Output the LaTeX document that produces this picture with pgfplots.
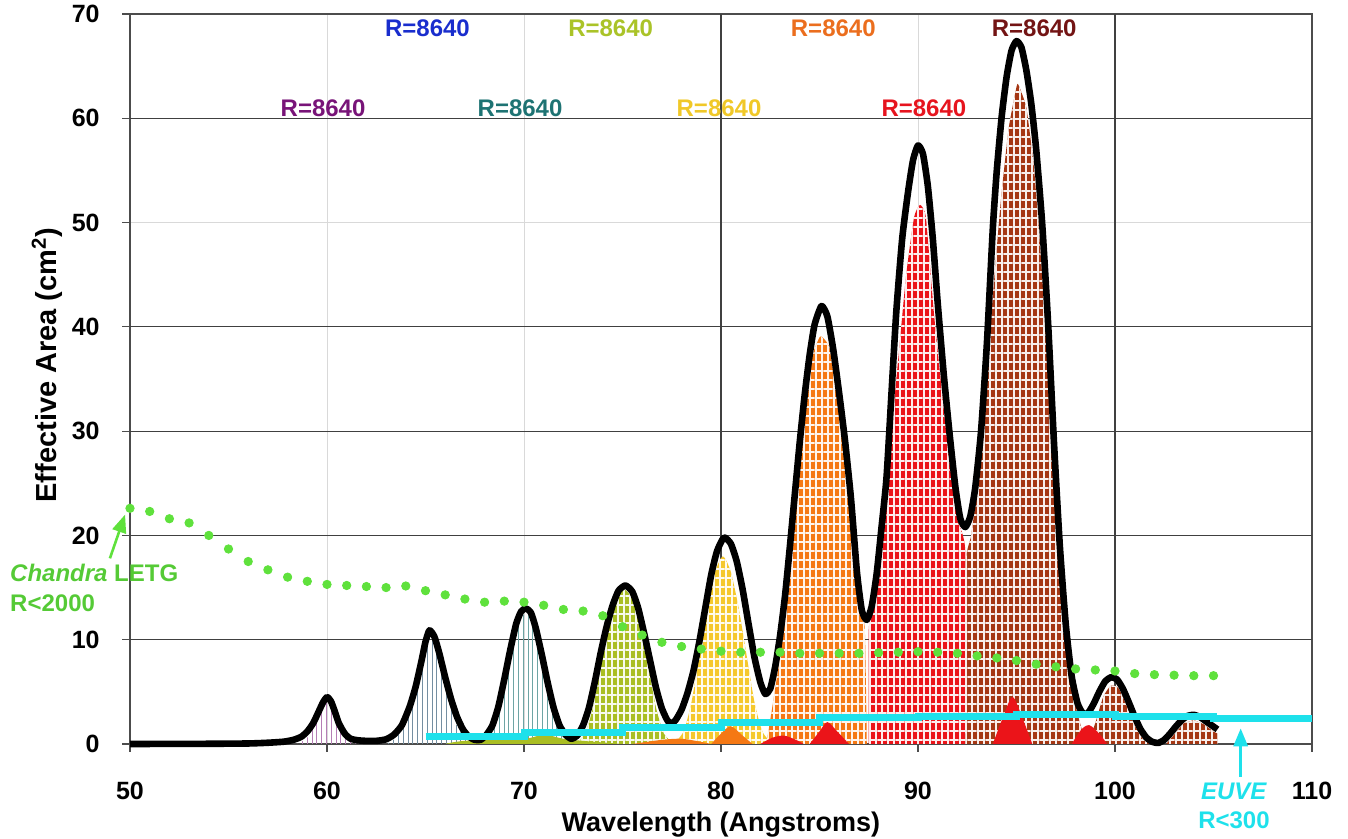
\documentclass[border=0pt]{standalone}
\usepackage{fontspec}
\setmainfont{Liberation Sans}
\usepackage{pgfplots}
\pgfplotsset{compat=1.18}
\usetikzlibrary{patterns.meta,arrows.meta}
\definecolor{cPurple}{RGB}{120,20,120}
\definecolor{cBlue}{RGB}{25,45,205}
\definecolor{cYG}{RGB}{170,195,40}
\definecolor{cOrange}{RGB}{235,110,30}
\definecolor{cMaroon}{RGB}{115,20,20}
\definecolor{cTeal}{RGB}{30,115,115}
\definecolor{cGold}{RGB}{240,200,40}
\definecolor{cRed}{RGB}{230,20,30}
\definecolor{fOrange}{RGB}{245,120,20}
\definecolor{fRed}{RGB}{235,20,25}
\definecolor{fBrown}{RGB}{165,55,20}
\definecolor{fGold}{RGB}{245,200,45}
\definecolor{fYG}{RGB}{170,190,35}
\definecolor{cGreen}{RGB}{95,225,60}
\definecolor{cCyan}{RGB}{30,225,235}
\definecolor{hGray}{RGB}{70,105,130}
\pgfplotsset{
  dense/.style={draw=none, fill=#1,
    postaction={pattern={Lines[angle=90,distance=3pt,line width=0.7pt]}, pattern color=white!92!#1},
    postaction={pattern={Lines[angle=0,distance=4.5pt,line width=0.6pt]}, pattern color=white!92!#1}},
  light/.style={draw=none, pattern={Lines[angle=90,distance=2.4pt,line width=0.4pt]}, pattern color=#1},
}
\begin{document}
\begin{tikzpicture}
\useasboundingbox (-65pt,-47.5pt) rectangle (609pt,372pt);
\begin{axis}[
  scale only axis, width=591pt, height=365pt,
  xmin=50, xmax=110, ymin=0, ymax=70,
  xtick={50,60,...,110}, ytick={0,10,...,70},
  grid=major, major grid style={gray!30, line width=0.5pt},
  extra x ticks={80,100}, extra x tick labels={},
  extra y ticks={10,20,30,40,60}, extra y tick labels={},
  extra tick style={major grid style={black!75, line width=0.6pt}},
  axis line style={black!70, line width=0.8pt},
  tick align=outside, major tick length=4pt, tick pos=left,
  tick style={black!70, line width=0.6pt},
  /pgf/number format/assume math mode=true,
  ticklabel style={font=\fontsize{12.5}{14}\selectfont\bfseries, inner sep=0pt},
  xticklabel style={anchor=north, yshift=-15pt},
  yticklabel style={anchor=east, xshift=-11pt},
  clip=false,
]
% ---- big coloured peaks (inner) ----
\addplot[light=cPurple!55, smooth, tension=0.4] coordinates {(58.5,0) (59.0,0.6) (59.4,1.8) (59.7,3.2) (60.0,4.0) (60.3,3.2) (60.6,1.8) (61.0,0.6) (61.5,0)} \closedcycle;
\addplot[light=hGray!75, smooth, tension=0.4] coordinates {(63.0,0) (63.5,0.6) (64.0,2.3) (64.4,4.3) (64.7,6.8) (65.0,9.3) (65.2,10.2) (65.5,9.4) (65.8,7.3) (66.1,4.8) (66.5,2.2) (67.0,0.5) (67.5,0)} \closedcycle;
\addplot[light=cTeal!65, smooth, tension=0.4] coordinates {(67.8,0) (68.3,0.8) (68.7,2.8) (69.1,6.3) (69.5,10.0) (69.8,12.0) (70.1,12.5) (70.4,12.0) (70.7,9.8) (71.1,6.2) (71.5,2.8) (71.9,0.8) (72.4,0)} \closedcycle;
\addplot[dense=fYG, smooth, tension=0.4] coordinates {(72.6,0) (73.1,1.0) (73.5,3.5) (73.9,7.5) (74.3,11.3) (74.7,13.9) (75.1,14.8) (75.5,13.9) (75.9,11.3) (76.3,7.5) (76.7,3.5) (77.1,1.0) (77.6,0)} \closedcycle;
\addplot[dense=fGold, smooth, tension=0.4] coordinates {(77.6,0) (78.1,1.2) (78.5,4.0) (78.9,8.5) (79.3,13.0) (79.7,16.5) (80.1,18.0) (80.5,16.5) (80.9,13.0) (81.3,8.5) (81.7,4.0) (82.1,1.2) (82.6,0)} \closedcycle;
\addplot[dense=fOrange, smooth, tension=0.3] coordinates {(82.3,0) (82.6,3.5) (83.0,8.5) (83.4,15.5) (83.8,23.5) (84.2,31.5) (84.6,37) (85.0,39) (85.15,39.0) (85.5,38) (85.9,33) (86.3,27) (86.7,20) (87.0,14.5) (87.3,11) (87.4,0)} \closedcycle;
\addplot[dense=fRed, smooth, tension=0.3] coordinates {(87.5,0) (87.5,11) (87.8,14.5) (88.2,21) (88.6,29) (89.0,37) (89.4,45) (89.8,50.5) (90.1,51.7) (90.4,50.5) (90.8,41.5) (91.2,34) (91.6,27) (92.0,21.5) (92.4,18.5) (92.5,0)} \closedcycle;
\addplot[dense=fBrown, smooth, tension=0.3] coordinates {(92.4,0) (92.4,17) (92.7,20) (93.0,24.5) (93.4,33) (93.8,43) (94.2,52) (94.6,59) (95.0,63.0) (95.1,63.2) (95.5,61) (95.9,55) (96.3,45) (96.7,33) (97.1,20.5) (97.5,10.5) (97.9,4.5) (98.3,1.5) (98.6,0)} \closedcycle;
\addplot[dense=fBrown, smooth, tension=0.4] coordinates {(98.6,0) (99.0,2.0) (99.4,4.5) (99.8,5.6) (100.2,5.3) (100.6,3.6) (101.0,1.8) (101.4,0.5) (101.8,0)} \closedcycle;
\addplot[dense=fBrown] coordinates {(102.6,0) (103.0,0.9) (103.5,2.0) (104.0,2.3) (104.5,1.9) (105.0,1.2) (105.2,1.0) (105.2,0)} \closedcycle;
% ---- small low bumps ----
\addplot[draw=none, fill=fYG, smooth] coordinates {(66,0) (67,0.3) (70,0.5) (71,0.9) (72,0.5) (73,0.3) (75,0)} \closedcycle;
\addplot[draw=none, fill=fOrange, smooth] coordinates {(75.5,0) (77,0.4) (78,0.5) (79,0.2) (79.5,0)} \closedcycle;
\addplot[draw=none, fill=fOrange, smooth] coordinates {(79.5,0) (80.0,1.0) (80.5,1.7) (81.1,0.8) (81.6,0)} \closedcycle;
\addplot[draw=none, fill=fRed, smooth] coordinates {(82,0) (82.6,0.6) (83.2,0.8) (83.8,0.4) (84.2,0)} \closedcycle;
\addplot[draw=none, fill=fRed, smooth] coordinates {(84.5,0) (85,1.2) (85.4,2.1) (85.9,1.2) (86.5,0)} \closedcycle;
\addplot[draw=none, fill=fRed, smooth] coordinates {(93.8,0) (94.3,2.5) (94.8,4.5) (95.3,2.5) (95.8,0)} \closedcycle;
\addplot[draw=none, fill=fRed, smooth] coordinates {(97.8,0) (98.3,1.4) (98.7,1.8) (99.2,1.0) (99.6,0)} \closedcycle;
% ---- black envelope ----
\addplot[black, line width=3.3pt, smooth, tension=0.35, line join=round] coordinates {
(50,0) (54,0.02) (56,0.05) (57,0.12) (57.8,0.22) (58.3,0.4) (58.7,0.7) (59.0,1.2) (59.3,2.0) (59.6,3.2) (59.8,4.0) (60.0,4.5) (60.2,4.1) (60.4,3.1) (60.6,2.0) (60.9,1.0) (61.2,0.5) (61.6,0.35) (62.0,0.3) (62.5,0.3)
(63.0,0.45) (63.4,0.9) (63.8,1.8) (64.2,3.6) (64.5,5.5) (64.8,8.0) (65.0,9.8) (65.2,10.9) (65.45,10.3) (65.7,8.7) (66.0,6.4) (66.3,4.3) (66.6,2.6) (66.9,1.4) (67.2,0.7) (67.5,0.4) (67.8,0.4)
(68.1,0.9) (68.4,1.8) (68.7,3.6) (69.0,6.2) (69.3,9.0) (69.6,11.5) (69.85,12.7) (70.1,13.0) (70.35,12.6) (70.6,11.1) (70.9,8.6) (71.2,5.9) (71.5,3.5) (71.8,1.8) (72.1,0.9) (72.4,0.5)
(72.7,0.8) (73.0,1.8) (73.3,3.5) (73.6,6.0) (73.9,8.8) (74.2,11.3) (74.5,13.3) (74.8,14.7) (75.15,15.2) (75.5,14.6) (75.8,13.0) (76.1,10.6) (76.4,8.0) (76.7,5.4) (77.0,3.4) (77.3,2.2) (77.5,2.0)
(77.7,2.3) (78.0,3.3) (78.3,4.9) (78.6,7.0) (78.9,9.8) (79.2,13.0) (79.5,16.2) (79.8,18.5) (80.15,19.8) (80.5,19.2) (80.8,17.5) (81.1,14.8) (81.4,11.5) (81.7,8.3) (82.0,5.9) (82.25,4.8)
(82.5,5.3) (82.75,7.4) (83.0,10.4) (83.25,14.2) (83.5,19.0) (83.75,24.0) (84.0,29.0) (84.25,33.5) (84.5,37.3) (84.75,40.2) (85.1,42.0) (85.4,41.0) (85.7,37.8) (86.0,33.6) (86.3,29.0) (86.6,23.5) (86.9,16.5) (87.15,12.8) (87.4,11.9)
(87.65,13.2) (87.9,16.3) (88.15,20.8) (88.4,25.5) (88.65,33.5) (88.9,41.5) (89.2,48.5) (89.5,53.0) (89.75,56.0) (90.0,57.4) (90.25,56.6) (90.5,53.5) (90.75,48.5) (91.0,42.3) (91.3,35.6) (91.6,29.8) (91.9,24.6) (92.15,21.6) (92.4,20.8)
(92.65,21.8) (92.9,24.5) (93.2,30.0) (93.5,38.5) (93.8,49.5) (94.0,55.0) (94.25,60.2) (94.5,64.0) (94.75,66.5) (95.0,67.4) (95.25,66.8) (95.5,64.6) (95.75,61.4) (96.0,57.0) (96.3,50.0) (96.6,40.5) (96.9,29.0) (97.2,19.0) (97.5,11.5) (97.8,6.5) (98.1,3.9) (98.35,3.0) (98.6,2.9)
(98.9,3.8) (99.2,5.0) (99.5,6.0) (99.8,6.4) (100.1,6.2) (100.4,5.3) (100.7,4.0) (101.0,2.6) (101.3,1.4) (101.6,0.6) (101.9,0.2) (102.2,0.1)
(102.5,0.4) (102.8,1.0) (103.1,1.7) (103.4,2.3) (103.7,2.7) (104.0,2.8) (104.3,2.6) (104.6,2.2) (104.9,1.8) (105.2,1.4)};
% ---- EUVE step line ----
\addplot[cCyan, line width=3.5pt, const plot] coordinates {(65,0.75) (70,1.1) (75,1.6) (80,2.1) (85,2.5) (90,2.6) (95,2.85) (100,2.65) (105,2.4) (110,2.4)};
% ---- Chandra LETG dots ----
\addplot[only marks, mark=*, mark size=2.1pt, cGreen, mark options={draw=none, fill=cGreen}] coordinates {
(50,22.6) (51,22.3) (52,21.6) (53,21.2) (54,20.0) (55,18.7) (56,17.5) (57,16.7) (58,16.0) (59,15.6) (60,15.3) (61,15.2) (62,15.1) (63,15.0) (64,15.15) (65,14.7) (66,14.3) (67,13.9) (68,13.6) (69,13.7) (70,13.6) (71,13.3) (72,12.9) (73,12.75) (74,12.3) (75,11.25) (76,10.45) (77,9.75) (78,9.35) (79,9.1) (80,8.9) (81,8.8) (82,8.8) (83,8.8) (84,8.7) (85,8.7) (86,8.7) (87,8.7) (88,8.75) (89,8.8) (90,8.85) (91,8.8) (92,8.7) (93,8.45) (94,8.25) (95,8.0) (96,7.65) (97,7.4) (98,7.2) (99,7.1) (100,7.0) (101,6.75) (102,6.65) (103,6.6) (104,6.55) (105,6.55)};
% ---- labels ----
\begin{scope}[every node/.style={font=\fontsize{12}{14}\selectfont\bfseries, inner sep=0pt}]
\node[text=cBlue] at (axis cs:65.1,68.6) {R=8640};
\node[text=cYG] at (axis cs:74.4,68.6) {R=8640};
\node[text=cOrange] at (axis cs:85.7,68.6) {R=8640};
\node[text=cMaroon] at (axis cs:95.9,68.6) {R=8640};
\node[text=cPurple] at (axis cs:59.8,61.0) {R=8640};
\node[text=cTeal] at (axis cs:69.8,61.0) {R=8640};
\node[text=cGold] at (axis cs:79.9,61.0) {R=8640};
\node[text=cRed] at (axis cs:90.3,61.0) {R=8640};
\node[text=cGreen!90!black, anchor=west] at (axis cs:43.9,16.4) {\textit{Chandra} LETG};
\node[text=cGreen!90!black, anchor=west] at (axis cs:43.9,13.5) {R<2000};
\node[text=cCyan] at (axis cs:106.04,-4.57) {\textit{EUVE}};
\node[text=cCyan] at (axis cs:106.04,-7.29) {R<300};
\end{scope}
\draw[cGreen, line width=1.3pt, -{Triangle[length=9pt,width=7pt]}] (axis cs:48.98,17.8) -- (axis cs:49.75,22.0);
\draw[cCyan, line width=1.5pt, -{Triangle[length=9pt,width=7pt]}] (axis cs:106.38,-3.13) -- (axis cs:106.38,1.5);
\node[font=\fontsize{13.5}{16}\selectfont\bfseries] at (axis cs:80,-7.77) {Wavelength (Angstroms)};
\node[font=\fontsize{14.5}{17}\selectfont\bfseries, rotate=90] at (axis cs:45.79,36.34) {Effective Area (cm\textsuperscript{2})};
\end{axis}
\end{tikzpicture}
\end{document}
